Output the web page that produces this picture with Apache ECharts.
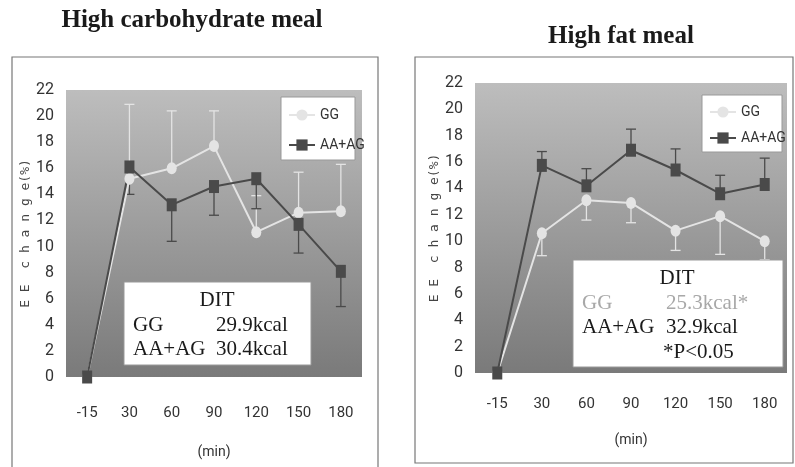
<!DOCTYPE html>
<html><head><meta charset="utf-8">
<script src="https://cdn.jsdelivr.net/npm/echarts@6/dist/echarts.min.js"></script>
<style>html,body{margin:0;padding:0;background:#fff}#c{width:795px;height:467px}</style>
</head><body><div id="c"></div>
<script>
var categories = ['-15','30','60','90','120','150','180'];
var yTicks = [0,2,4,6,8,10,12,14,16,18,20,22];
// High carbohydrate meal
var carbGG     = [0, 15.2, 16.0, 17.7, 11.1, 12.6, 12.7];
var carbGGHi   = [null, 20.9, 20.4, 20.4, 13.9, 15.7, 16.3];
var carbAA     = [0, 16.1, 13.2, 14.6, 15.2, 11.7, 8.1];
var carbAALo   = [null, 14.0, 10.4, 12.4, 12.9, 9.5, 5.4];
// High fat meal
var fatGG      = [0, 10.6, 13.1, 12.9, 10.8, 11.9, 10.0];
var fatGGLo    = [null, 8.9, 11.6, 11.4, 9.3, 9.0, 8.6];
var fatAA      = [0, 15.75, 14.2, 16.9, 15.4, 13.6, 14.3];
var fatAAHi    = [null, 16.8, 15.5, 18.5, 17.0, 15.0, 16.3];

var GGC = '#e4e4e4', AAC = '#4a4a4a';
var NARROW = "Roboto,'Liberation Sans',sans-serif";
var SERIF = "'Liberation Serif','DejaVu Serif',serif";

function errData(base, end){
  var out = [];
  end.forEach(function(v,i){ if(v!=null) out.push([i, base[i], v]); });
  return out;
}
function errSeries(gi, base, end, color){
  return {
    type:'custom', xAxisIndex:gi, yAxisIndex:gi, z:2, silent:true,
    data: errData(base, end),
    renderItem: function(params, api){
      var p0 = api.coord([api.value(0), api.value(1)]);
      var p1 = api.coord([api.value(0), api.value(2)]);
      var st = {stroke:color, lineWidth:1.3};
      return {type:'group', children:[
        {type:'line', shape:{x1:p0[0],y1:p0[1],x2:p1[0],y2:p1[1]}, style:st},
        {type:'line', shape:{x1:p1[0]-5,y1:p1[1],x2:p1[0]+5,y2:p1[1]}, style:st}
      ]};
    }
  };
}
function lineSeries(gi, name, data, color, sym, size){
  return {
    type:'line', name:name, xAxisIndex:gi, yAxisIndex:gi, data:data, z:3,
    symbol:sym, symbolSize:size, showAllSymbol:true,
    lineStyle:{color:color, width:2},
    itemStyle:{color:color}
  };
}
function grad(){
  return {type:'linear', x:0, y:0, x2:0, y2:1, colorStops:[
    {offset:0, color:'#bdbdbd'}, {offset:1, color:'#7a7a7a'}]};
}
function xAx(gi, margin, gap){
  return {type:'category', gridIndex:gi, data:categories, boundaryGap:true,
    axisLine:{show:false}, axisTick:{show:false}, splitLine:{show:false},
    axisLabel:{margin:margin, fontSize:15, fontFamily:NARROW, color:'#333'},
    name:'(min)', nameLocation:'middle', nameGap:gap,
    nameTextStyle:{fontSize:14, fontFamily:NARROW, color:'#333'}};
}
function yAx(gi, gap){
  return {type:'value', gridIndex:gi, min:yTicks[0], max:yTicks[yTicks.length-1], interval:2,
    axisLine:{show:false}, axisTick:{show:false}, splitLine:{show:false},
    axisLabel:{margin:12, fontSize:16, fontFamily:NARROW, color:'#333'},
    name:'E E  c h a n g e(%)', nameLocation:'middle', nameGap:gap, nameRotate:90,
    nameTextStyle:{fontSize:13, fontFamily:"'DejaVu Sans Mono',monospace", color:'#444'}};
}
function txt(x,y,s,opt){
  opt = opt||{};
  return {type:'text', x:x, y:y, z:20, style:{text:s, font:(opt.font||('21px '+SERIF)),
    fill:opt.fill||'#1a1a1a', align:opt.align||'left', verticalAlign:'middle'}};
}
function box(x,y,w,h,z){
  return {type:'rect', z:z||15, shape:{x:x,y:y,width:w,height:h},
    style:{fill:'#fff', stroke:'#999', lineWidth:1}};
}

var chart = echarts.init(document.getElementById('c'), null, {renderer:'canvas'});
chart.setOption({
  animation:false,
  backgroundColor:'#fff',
  grid:[
    {left:66, right:433, top:90, bottom:90, show:true, backgroundColor:grad(), borderWidth:0},
    {left:475, right:8, top:83, bottom:94, show:true, backgroundColor:grad(), borderWidth:0}
  ],
  xAxis:[xAx(0, 29, 68), xAx(1, 24, 60)],
  yAxis:[yAx(0, 33), yAx(1, 32)],
  legend:[
    {data:['GG','AA+AG'], orient:'vertical', left:283, top:103, z:30, itemWidth:26, itemHeight:14, itemGap:16,
     textStyle:{fontSize:14, fontFamily:NARROW, color:'#333'}, selectedMode:false},
    {data:['GG','AA+AG'], orient:'vertical', left:704, top:100, z:30, itemWidth:26, itemHeight:14, itemGap:12,
     textStyle:{fontSize:14, fontFamily:NARROW, color:'#333'}, selectedMode:false}
  ],
  series:[
    errSeries(0, carbGG, carbGGHi, GGC),
    errSeries(0, carbAA, carbAALo, AAC),
    lineSeries(0, 'GG', carbGG, GGC, 'circle', [10,12]),
    lineSeries(0, 'AA+AG', carbAA, AAC, 'rect', [10,13]),
    errSeries(1, fatGG, fatGGLo, GGC),
    errSeries(1, fatAA, fatAAHi, AAC),
    lineSeries(1, 'GG', fatGG, GGC, 'circle', [10,12]),
    lineSeries(1, 'AA+AG', fatAA, AAC, 'rect', [10,13])
  ],
  graphic:[
    {type:'rect', z:1, shape:{x:12,y:57,width:366,height:420}, style:{fill:null, stroke:'#777', lineWidth:1.2}},
    {type:'rect', z:1, shape:{x:415,y:57,width:378,height:406}, style:{fill:null, stroke:'#777', lineWidth:1.2}},
    txt(192, 21, 'High carbohydrate meal', {font:'bold 25px '+SERIF, align:'center'}),
    txt(621, 37, 'High fat meal', {font:'bold 25px '+SERIF, align:'center'}),
    box(281, 97, 74, 63, 15),
    box(702, 95, 80, 57, 15),
    box(124, 282, 187, 83, 15),
    txt(217, 300, 'DIT', {align:'center'}),
    txt(133, 325, 'GG'),
    txt(216, 325, '29.9kcal'),
    txt(133, 349, 'AA+AG'),
    txt(216, 349, '30.4kcal'),
    box(573, 260, 210, 107, 15),
    txt(677, 278, 'DIT', {align:'center'}),
    txt(582, 303, 'GG', {fill:'#a8a8a8'}),
    txt(666, 303, '25.3kcal*', {fill:'#a8a8a8'}),
    txt(582, 327, 'AA+AG'),
    txt(666, 327, '32.9kcal'),
    txt(663, 352, '*P<0.05')
  ]
});
</script></body></html>
